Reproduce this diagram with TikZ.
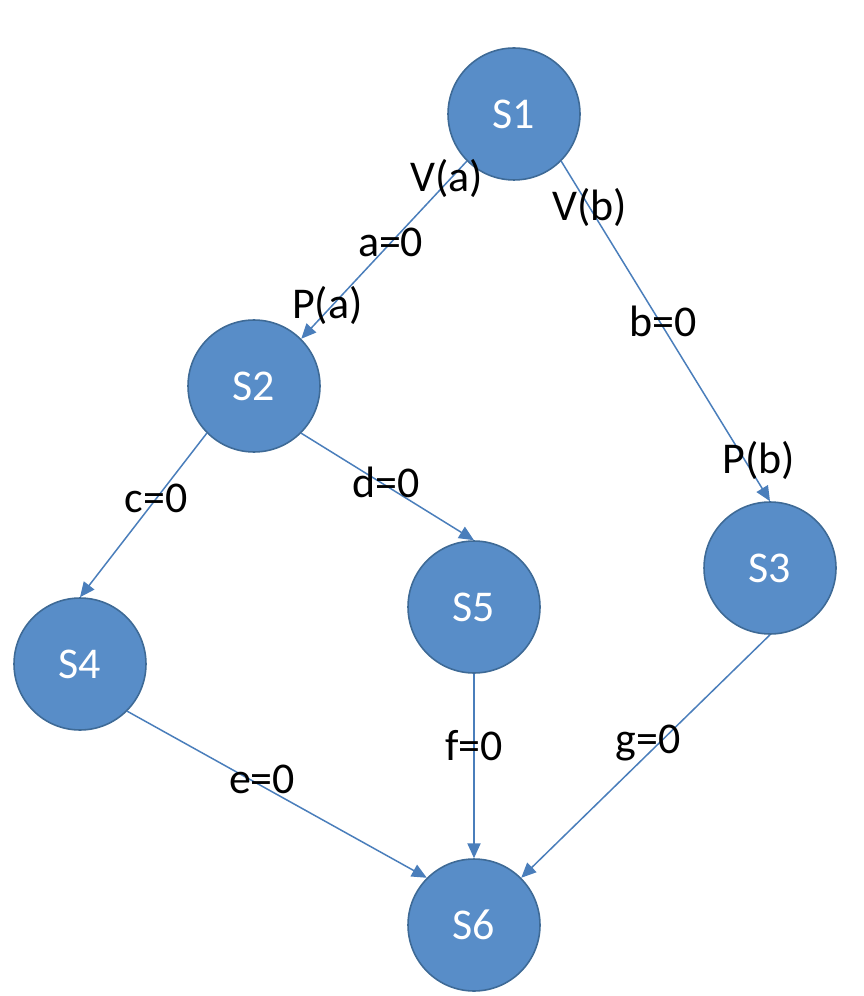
\documentclass[tikz,border=0pt]{standalone}
\usepackage{fontspec}
\setmainfont{Carlito}
\usepackage{xcolor}
\usetikzlibrary{arrows.meta}

\definecolor{stfill}{RGB}{88,141,200}
\definecolor{stedge}{RGB}{62,106,150}
\definecolor{edgeblue}{RGB}{74,126,187}

\begin{document}
\begin{tikzpicture}[
  x=0.02cm, y=-0.02cm,
  state/.style={circle,draw=stedge,line width=0.9pt,fill=stfill,inner sep=0pt,minimum size=2.64cm,
    text=white,font=\fontsize{25}{30}\selectfont},
  arrow/.style={-{Triangle[length=8.5pt,width=7.5pt]},draw=edgeblue,line width=0.85pt},
  lbl/.style={inner sep=0pt,font=\fontsize{25}{30}\selectfont}
]
\useasboundingbox (0,0) rectangle (863,996);
\node[state] (s1) at (514,114) {S1};
\node[state] (s2) at (254,386) {S2};
\node[state] (s3) at (770,568) {S3};
\node[state] (s4) at (80,664) {S4};
\node[state] (s5) at (474,607) {S5};
\node[state] (s6) at (474,925) {S6};
\draw[arrow] (s1.south west) -- node[lbl,pos=.10,xshift=-2pt] (va) {V(a)}
  node[lbl,pos=.46] (aa) {a=0} node[lbl,pos=.81,xshift=-3pt] (pa) {P(a)} (s2.north east);
\draw[arrow] (s1.south east) -- node[lbl,pos=.135] (vb) {V(b)}
  node[lbl,pos=.47,xshift=2pt] (bb) {b=0} node[lbl,pos=.88,xshift=8pt] (pb) {P(b)} (s3.north);
\draw[arrow] (s2.south west) -- node[lbl,pos=.40] (cc) {c=0} (s4.north);
\draw[arrow] (s2.south east) -- node[lbl,pos=.49,yshift=2pt] (dd) {d=0} (s5.north);
\draw[arrow] (s4.south east) -- node[lbl,pos=.45,yshift=4pt] (ee) {e=0} (s6.north west);
\draw[arrow] (s5.south) -- node[lbl,pos=.39] (ff) {f=0} (s6.north);
\draw[arrow] (s3.south) -- node[lbl,pos=.49,yshift=6pt] (gg) {g=0} (s6.north east);
\end{tikzpicture}
\end{document}
